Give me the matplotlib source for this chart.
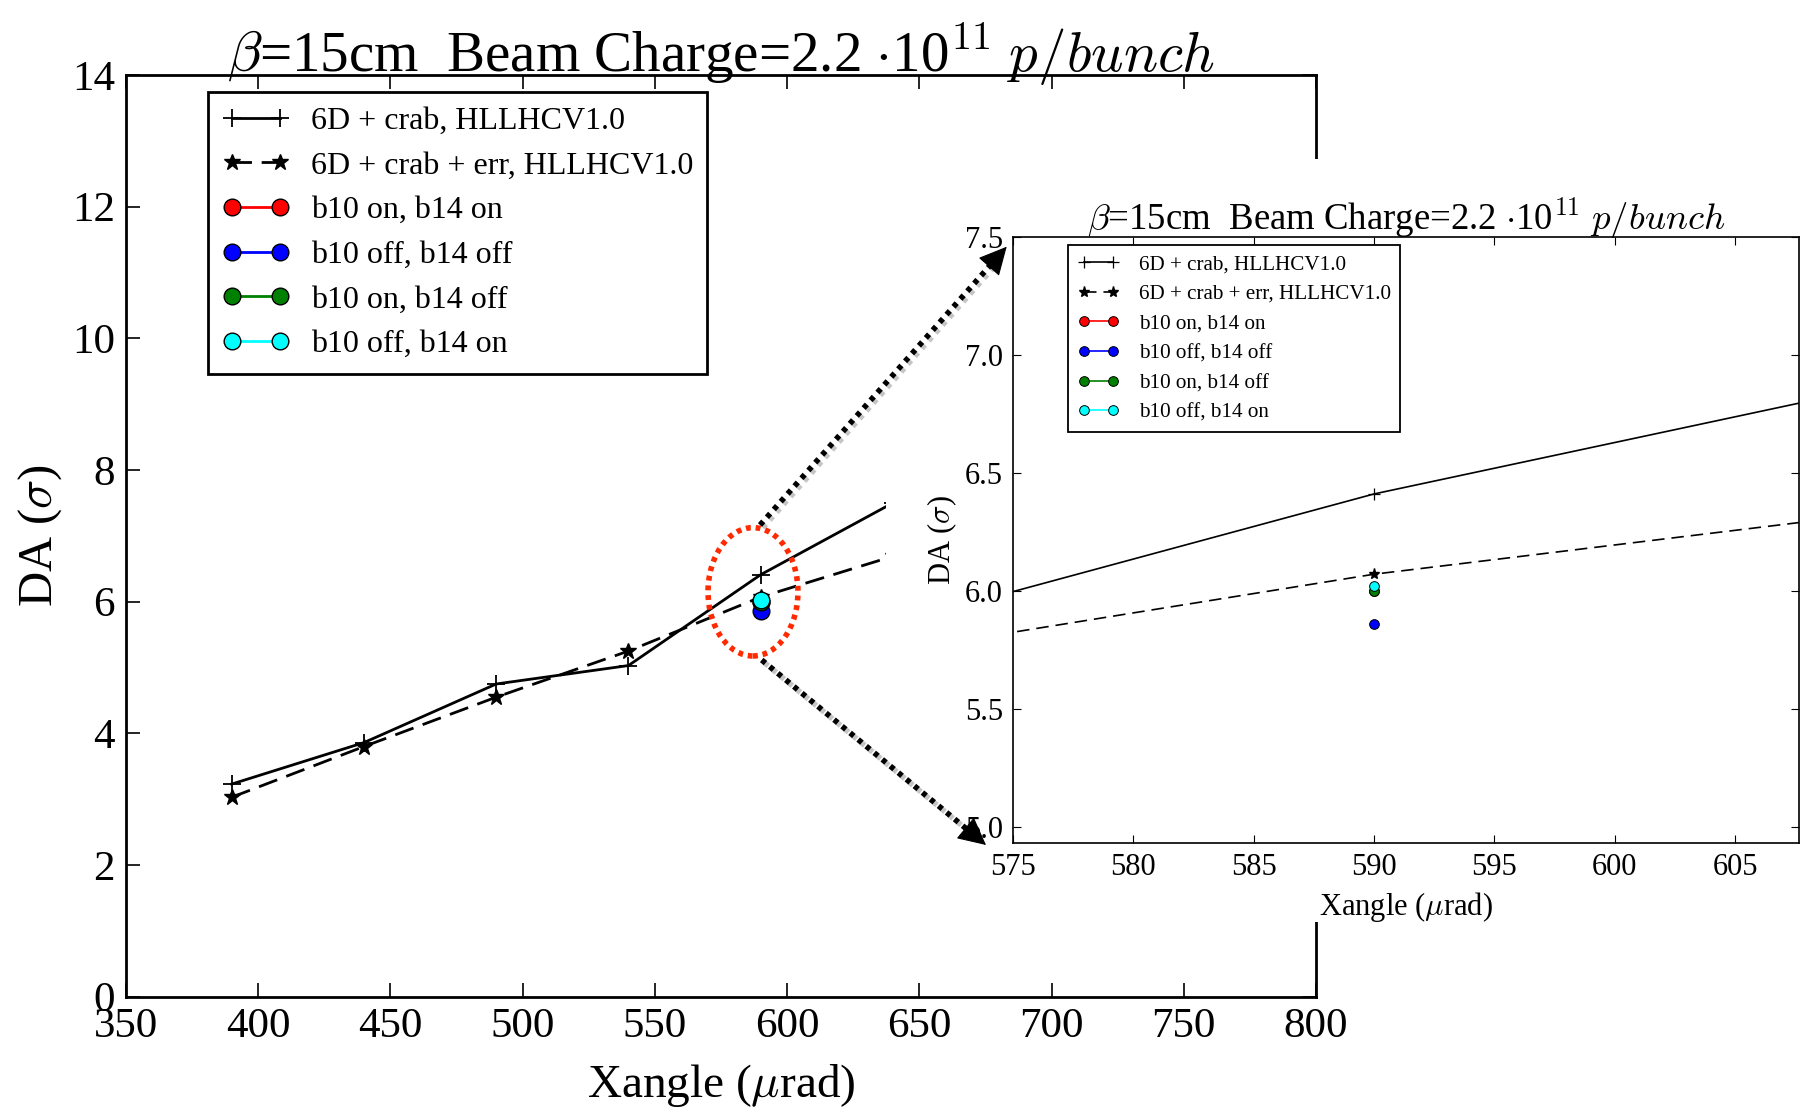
import matplotlib
matplotlib.use("Agg")
import numpy as np
import matplotlib.pyplot as plt
import matplotlib.patheffects as pe
from matplotlib.lines import Line2D
from matplotlib.patches import Ellipse, Rectangle, FancyArrowPatch
from matplotlib.ticker import FormatStrFormatter

plt.rcParams['font.family'] = ['Liberation Serif', 'DejaVu Serif']
plt.rcParams['mathtext.fontset'] = 'cm'
plt.rcParams['lines.scale_dashes'] = False

# ---- data ----
xangle = [390, 440, 490, 540, 590, 640]
da_crab = [3.23, 3.86, 4.75, 5.03, 6.41, 7.50]
da_crab_err = [3.03, 3.80, 4.55, 5.25, 6.07, 6.69]

# multipole scan, only done at 590 urad
x_scan = [590]
da_b10on_b14on = [6.00]
da_b10off_b14off = [5.86]
da_b10on_b14off = [6.00]
da_b10off_b14on = [6.02]

labels = ['6D + crab, HLLHCV1.0', '6D + crab + err, HLLHCV1.0',
          'b10 on, b14 on', 'b10 off, b14 off', 'b10 on, b14 off', 'b10 off, b14 on']
scan_series = [da_b10on_b14on, da_b10off_b14off, da_b10on_b14off, da_b10off_b14on]
scan_colors = ['red', 'blue', 'green', 'cyan']

title = r'$\beta$=15cm  Beam Charge=2.2 $\cdot$10$^{11}$ $p/bunch$'

W, H = 1806, 1117
fig = plt.figure(figsize=(W / 100, H / 100), dpi=100)


def fxy(px, py):
    # pixel position (from top-left) -> figure fraction
    return (px / W, 1 - py / H)


def draw(ax, big):
    ms = 11 if big else 7
    lw = 2.0 if big else 1.2
    dash = (14, 7) if big else (9, 5)
    ax.plot(xangle, da_crab, '-', color='k', lw=lw, marker='+', ms=ms + 2,
            mew=1.3 if big else 0.9, label=labels[0])
    ax.plot(xangle, da_crab_err, color='k', lw=lw, dashes=dash, marker='*', ms=ms + 1,
            mec='k', mfc='k', label=labels[1])
    for ys, c, lab in zip(scan_series, scan_colors, labels[2:]):
        ax.plot(x_scan, ys, '-o', color=c, mfc=c, mec='k', mew=1.0 if big else 0.7,
                lw=lw, ms=ms + 1 if big else ms, label=lab)


# ---- main axes ----
ax = fig.add_axes([126 / W, 1 - 996.7 / H, 1190 / W, 921.7 / H])
ax.set_zorder(0)
draw(ax, True)
ax.set_xlim(350, 800)
ax.set_ylim(0, 14)
ax.set_xticks(range(350, 801, 50))
ax.set_yticks(range(0, 15, 2))
ax.tick_params(direction='in', top=True, right=True, length=10, width=1.2,
               labelsize=31, pad=8)
for s in ax.spines.values():
    s.set_linewidth(2.0)
ax.set_xlabel(r'Xangle ($\mu$rad)', fontsize=34, labelpad=11)
ax.set_ylabel(r'DA ($\sigma$)', fontsize=35, labelpad=6)
ax.set_title(title, fontsize=41, pad=2)
leg = ax.legend(loc='upper left', bbox_to_anchor=(0.0693, 0.9816), borderaxespad=0,
                fontsize=23, numpoints=2, handlelength=2.1, handletextpad=0.65,
                labelspacing=0.48, borderpad=0.45, fancybox=False, framealpha=1)
leg.get_frame().set_edgecolor('k')
leg.get_frame().set_linewidth(2.0)

# mark the zoomed region
ax.add_patch(Ellipse((587.1, 6.15), width=34, height=1.95, fill=False,
                     ec='#ff2a00', lw=4, ls=(0, (3.5, 3.5)), capstyle='butt',
                     zorder=6, clip_on=False))

# white backing behind the zoom panel
fig.patches.append(Rectangle(fxy(886, 922), (W - 886) / W, (922 - 159) / H,
                             transform=fig.transFigure, fc='white', ec='none',
                             zorder=1))

# ---- zoom panel ----
axi = fig.add_axes([1012.7 / W, 1 - 843.3 / H, 786.3 / W, 606.6 / H])
axi.set_zorder(2)
draw(axi, False)
axi.set_xlim(575, 607.65)
axi.set_ylim(4.93, 7.5)
axi.set_xticks(range(575, 606, 5))
axi.set_yticks([5.0, 5.5, 6.0, 6.5, 7.0, 7.5])
axi.yaxis.set_major_formatter(FormatStrFormatter('%.1f'))
axi.tick_params(direction='in', top=True, right=True, length=6, width=0.8,
                labelsize=22, pad=7)
for s in axi.spines.values():
    s.set_linewidth(1.2)
axi.set_xlabel(r'Xangle ($\mu$rad)', fontsize=22, labelpad=6)
axi.set_ylabel(r'DA ($\sigma$)', fontsize=22, labelpad=4)
axi.set_title(title, fontsize=26.5, pad=5)
legi = axi.legend(loc='upper left', bbox_to_anchor=(0.0703, 0.9863), borderaxespad=0,
                  fontsize=15.2, numpoints=2, handlelength=2.0, handletextpad=0.9,
                  labelspacing=0.47, borderpad=0.45, fancybox=False, framealpha=1)
legi.get_frame().set_edgecolor('k')
legi.get_frame().set_linewidth(1.3)

# dotted arrows from the ellipse to the zoom panel: dotted shaft + solid head
shadow = [pe.SimpleLineShadow(offset=(2, -2), shadow_color='0.55', alpha=0.5),
          pe.Normal()]
for start, end in [((760, 525), (1006.7, 246.7)), ((761.7, 660), (986, 845))]:
    p0, p1 = np.array(start), np.array(end)
    u = (p1 - p0) / np.hypot(*(p1 - p0))
    neck = p1 - 16 * u
    (x0, y0), (x1, y1) = fxy(*p0), fxy(*neck)
    shaft = Line2D([x0, x1], [y0, y1], transform=fig.transFigure, color='k',
                   lw=4.0, ls=(0, (3.5, 4.0)), dash_capstyle='butt', zorder=6)
    shaft.set_path_effects(shadow)
    fig.add_artist(shaft)
    head = FancyArrowPatch(fxy(*(p1 - 18 * u)), fxy(*p1), transform=fig.transFigure,
                           arrowstyle='-|>,head_length=1.0,head_width=0.5',
                           mutation_scale=18, color='k', lw=0.8,
                           shrinkA=0, shrinkB=0, zorder=6)
    fig.add_artist(head)

fig.savefig('out.png', dpi=100)
